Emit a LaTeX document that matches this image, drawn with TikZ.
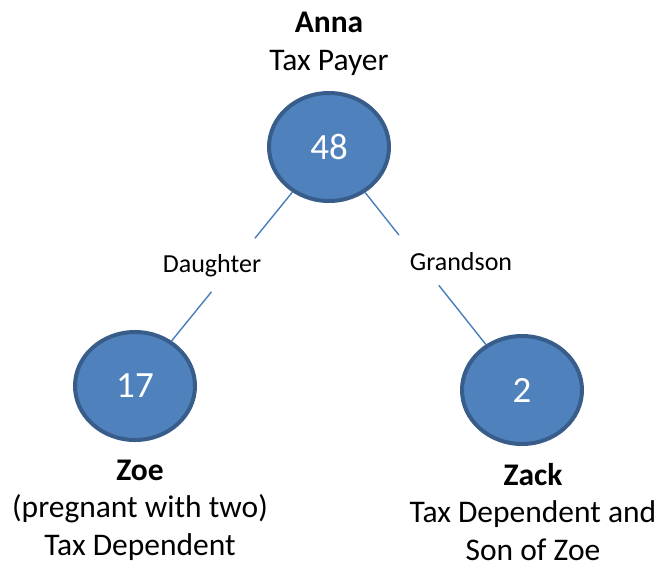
\documentclass[tikz,border=0pt]{standalone}
\usepackage{fontspec}
\setmainfont{Carlito}
\usetikzlibrary{calc, positioning, shapes.geometric}

\definecolor{bubblefill}{HTML}{4F81BD}
\definecolor{bubbleedge}{HTML}{385D8A}
\definecolor{linkblue}{HTML}{4A7EBB}

\begin{document}
\begin{tikzpicture}[x=1pt, y=-1pt,
  person/.style={ellipse, draw=bubbleedge, fill=bubblefill, line width=4pt,
    minimum width=120pt, minimum height=108pt, text=white,
    font=\fontsize{37}{44}\selectfont},
  caption/.style={align=center, inner sep=0pt, font=\fontsize{31.5}{37.5}\selectfont},
  relation/.style={font=\fontsize{26}{30}\selectfont},
  link/.style={draw=linkblue, line width=1.4pt}]
  \useasboundingbox (0,0) rectangle (663,566);
  % people
  \node [person] (anna) at (329,147) {48};
  \node [person] (zoe) at (135,386) {17};
  \node [person] (zack) at (522,390) {2};
  % who they are
  \node [caption] (annatext) at (329,44) {\textbf{Anna}\\Tax Payer};
  \node [caption] (zoetext) at (140,510) {\textbf{Zoe}\\(pregnant with two)\\Tax Dependent};
  \node [caption] (zacktext) at (533,512) {\textbf{Zack}\\Tax Dependent and\\Son of Zoe};
  % relations
  \path (anna) -- (zoe) coordinate [pos=0.31] (d1) coordinate [pos=0.67] (d2);
  \path (anna) -- (zack) coordinate [pos=0.28] (g1) coordinate [pos=0.61] (g2);
  \draw [link] (anna) -- (d1);
  \draw [link] (d2) -- (zoe);
  \draw [link] (anna) -- (g1);
  \draw [link] (g2) -- (zack);
  \node [relation] (daughter) at (212,266) {Daughter};
  \node [relation] (grandson) at (461,262) {Grandson};
\end{tikzpicture}
\end{document}
